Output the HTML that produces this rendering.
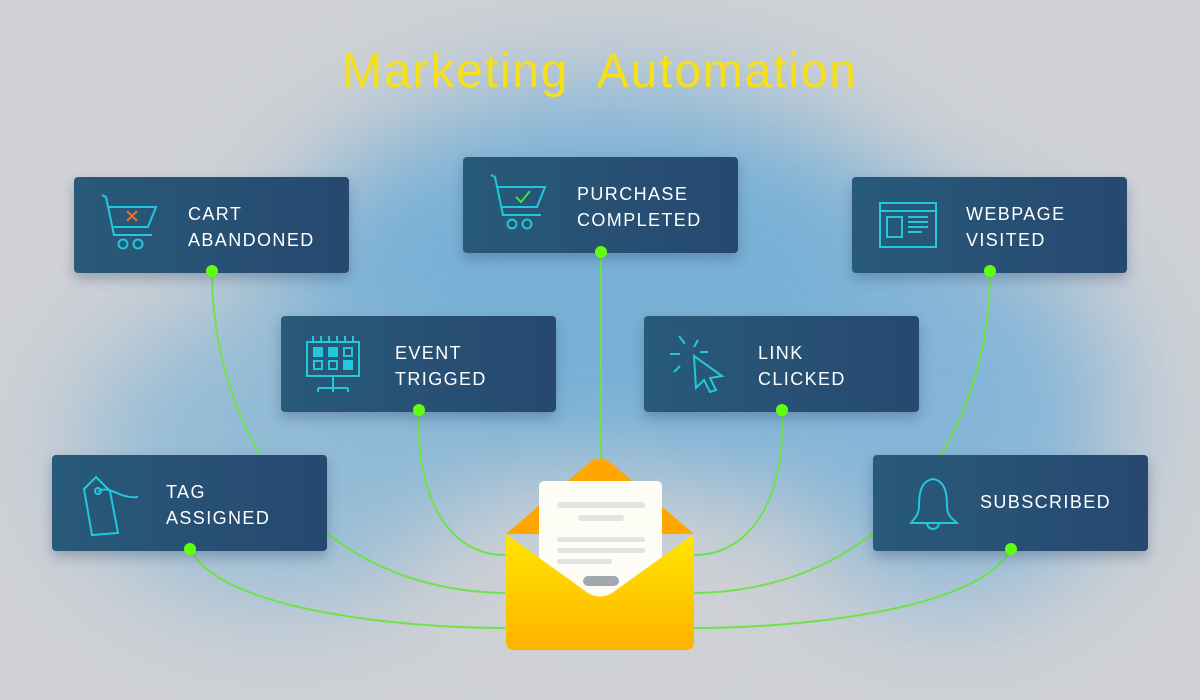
<!DOCTYPE html>
<html><head><meta charset="utf-8"><style>
body{margin:0;width:1200px;height:700px;overflow:hidden;font-family:"Liberation Sans",sans-serif;}
.bg{position:absolute;left:0;top:0;width:1200px;height:700px;background:#cfd1d5;overflow:hidden}
.blob{position:absolute;border-radius:50%;filter:blur(55px)}
.card{position:absolute;width:275px;height:96px;border-radius:4px;background:linear-gradient(90deg,#285a79,#27486f);box-shadow:0 6px 12px rgba(40,60,90,.3)}
.card .t{position:absolute;color:#fff;font-size:18px;letter-spacing:1.4px;line-height:26px;top:24px}
.card svg{position:absolute}
h1{position:absolute;top:44px;left:0;width:1200px;text-align:center;margin:0;font-weight:normal;font-size:48px;color:#f7e017;letter-spacing:1.8px;font-family:"Liberation Sans",sans-serif}
</style></head><body>
<div class="bg">
<div class="blob" style="left:270px;top:90px;width:680px;height:420px;background:#78b0d6"></div>
<div class="blob" style="left:80px;top:300px;width:400px;height:300px;background:#8ab8d6;opacity:.85"></div>
<div class="blob" style="left:780px;top:230px;width:340px;height:370px;background:#7fb3d8;opacity:.9"></div>
<div class="blob" style="left:450px;top:470px;width:300px;height:220px;background:#cfd1d5;opacity:.8"></div>
</div>
<h1>Marketing&nbsp; Automation</h1>
<svg width="1200" height="700" style="position:absolute;left:0;top:0" fill="none" stroke="#6fe24a" stroke-width="2">
<path d="M212 271 C212 420 300 590 505 593"/>
<path d="M990 271 C990 420 900 590 694 593"/>
<path d="M601 252 L601 460"/>
<path d="M419 410 C415 500 450 555 505 555"/>
<path d="M782 410 C786 500 750 555 694 555"/>
<path d="M190 549 C220 610 400 628 505 628"/>
<path d="M1011 549 C980 610 800 628 694 628"/>
</svg>
<div class="card" style="left:74px;top:177px">
<svg width="80" height="80" style="left:20px;top:12px" fill="none" stroke="#22c8dc" stroke-width="2"><path d="M8 6 L12 8 L20 46 L58 46"/><path d="M14 18 L62 18 L54 38 L18 38"/><circle cx="29" cy="55" r="4.5"/><circle cx="44" cy="55" r="4.5"/><path d="M33 22 L43 32 M43 22 L33 32" stroke="#f07030"/></svg>
<div class="t" style="left:114px">CART<br>ABANDONED</div></div>
<div class="card" style="left:463px;top:157px">
<svg width="80" height="80" style="left:20px;top:12px" fill="none" stroke="#22c8dc" stroke-width="2"><path d="M8 6 L12 8 L20 46 L58 46"/><path d="M14 18 L62 18 L54 38 L18 38"/><circle cx="29" cy="55" r="4.5"/><circle cx="44" cy="55" r="4.5"/><path d="M33 28 L38 33 L47 22" stroke="#3fe04a"/></svg>
<div class="t" style="left:114px">PURCHASE<br>COMPLETED</div></div>
<div class="card" style="left:852px;top:177px">
<svg width="80" height="80" style="left:24px;top:20px" fill="none" stroke="#22c8dc" stroke-width="2"><rect x="4" y="6" width="56" height="44"/><path d="M4 14 H60"/><rect x="11" y="20" width="15" height="20"/><path d="M32 20H52M32 25H52M32 30H52M32 35H46"/></svg>
<div class="t" style="left:114px">WEBPAGE<br>VISITED</div></div>
<div class="card" style="left:281px;top:316px">
<svg width="80" height="80" style="left:22px;top:16px" fill="none" stroke="#22c8dc" stroke-width="2"><rect x="4" y="10" width="52" height="34"/><path d="M10 4v6M18 4v6M26 4v6M34 4v6M42 4v6M50 4v6M30 44v12M15 56h30M15 56v4M30 56v4M45 56v4"/><rect x="11" y="16" width="8" height="8" fill="#22c8dc"/><rect x="26" y="16" width="8" height="8" fill="#22c8dc"/><rect x="41" y="16" width="8" height="8"/><rect x="11" y="29" width="8" height="8"/><rect x="26" y="29" width="8" height="8"/><rect x="41" y="29" width="8" height="8" fill="#22c8dc"/></svg>
<div class="t" style="left:114px">EVENT<br>TRIGGED</div></div>
<div class="card" style="left:644px;top:316px">
<svg width="80" height="80" style="left:22px;top:14px" fill="none" stroke="#22c8dc" stroke-width="2"><path d="M28 26 L56 46 L44 48 L50 60 L44 62 L38 50 L30 58 Z"/><path d="M13 6l6 8M32 10l-4 7M4 24h10M42 22h-8M8 42l6-6"/></svg>
<div class="t" style="left:114px">LINK<br>CLICKED</div></div>
<div class="card" style="left:52px;top:455px">
<svg width="80" height="80" style="left:26px;top:16px" fill="none" stroke="#22c8dc" stroke-width="2"><path d="M6 18 L18 6 L32 20 L40 62 L14 64 Z"/><circle cx="20" cy="20" r="3"/><path d="M20 20 C34 14 40 28 60 26"/></svg>
<div class="t" style="left:114px">TAG<br>ASSIGNED</div></div>
<div class="card" style="left:873px;top:455px">
<svg width="80" height="80" style="left:30px;top:18px" fill="none" stroke="#22c8dc" stroke-width="2"><path d="M30 6 C18 8 16 20 16 32 C16 44 10 46 8 50 L54 50 C50 46 44 44 44 32 C44 20 42 8 30 6Z"/><path d="M24 50 a6 6 0 0 0 12 0"/></svg>
<div class="t" style="left:107px;top:34px">SUBSCRIBED</div></div>
<svg width="1200" height="700" style="position:absolute;left:0;top:0">
<g fill="#5fff10"><circle cx="212" cy="271" r="6"/><circle cx="601" cy="252" r="6"/><circle cx="990" cy="271" r="6"/><circle cx="419" cy="410" r="6"/><circle cx="782" cy="410" r="6"/><circle cx="190" cy="549" r="6"/><circle cx="1011" cy="549" r="6"/></g>
<defs><linearGradient id="ey" x1="0" y1="0" x2="0" y2="1"><stop offset="0" stop-color="#ffe600"/><stop offset="1" stop-color="#ffb300"/></linearGradient></defs>
<path d="M506 534 L590 462 Q600 455 610 462 L694 534 Z" fill="#ffa600"/>
<rect x="539" y="481" width="123" height="120" rx="5" fill="#fdfcf5"/>
<g fill="#e3e3e3"><rect x="557" y="502" width="88" height="6" rx="3"/><rect x="578" y="515" width="46" height="6" rx="3"/><rect x="557" y="537" width="88" height="5" rx="2.5"/><rect x="557" y="548" width="88" height="5" rx="2.5"/><rect x="557" y="559" width="55" height="5" rx="2.5"/></g>
<rect x="583" y="576" width="36" height="10" rx="5" fill="#a2a9ac"/>
<path d="M506 534 L588 593 Q600 600 612 593 L694 534 L694 642 Q694 650 686 650 L514 650 Q506 650 506 642 Z" fill="url(#ey)"/>
</svg>
</body></html>
